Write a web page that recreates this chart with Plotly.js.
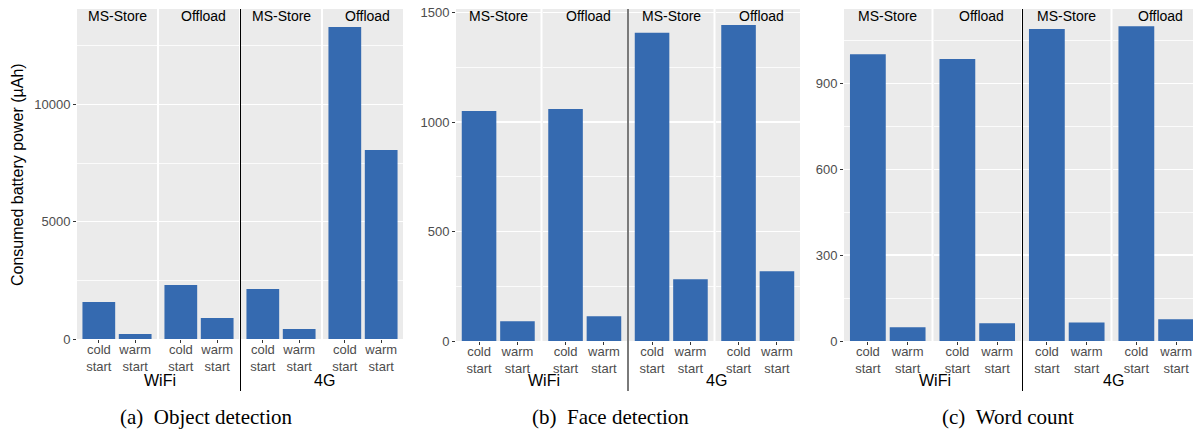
<!DOCTYPE html>
<html>
<head>
<meta charset="utf-8">
<script src="https://cdn.plot.ly/plotly-3.0.1.min.js"></script>
<style>
  html, body { margin: 0; padding: 0; background: #fff; overflow: hidden; }
  #chart { width: 1200px; height: 432px; }
</style>
</head>
<body>
<div id="chart"></div>
<script>
// ---------------- data ----------------
const categories = ['cold<br>start', 'warm<br>start'];
const facetNetworks = ['WiFi', 'WiFi', '4G', '4G'];
const facetDeployments = ['MS-Store', 'Offload', 'MS-Store', 'Offload'];
const networkLabels = ['WiFi', '4G'];

// values per facet: [WiFi MS-Store, WiFi Offload, 4G MS-Store, 4G Offload]
const objectCold = [1577, 2302, 2131, 13299];
const objectWarm = [213, 895, 426, 8056];
const faceCold = [1051, 1060, 1408, 1444];
const faceWarm = [90, 113, 282, 319];
const wordCold = [1002, 985, 1090, 1100];
const wordWarm = [48, 62, 65, 76];

const captions = ['(a)\u00a0\u00a0Object detection', '(b)\u00a0\u00a0Face detection', '(c)\u00a0\u00a0Word count'];
const yTitle = 'Consumed battery power (µAh)';

// ---------------- layout geometry (pixels) ----------------
const W = 1200, H = 432;
const TOP = 9, GAP = 2;
const panels = [
  {left: 77,  right: 403,  bottom: 339, range: [0, 14066], dtick: 5000, minor: 2500,
   cold: objectCold, warm: objectWarm, sepColor: '#000000', sepWidth: 1, capX: 206},
  {left: 456, right: 800,  bottom: 341, range: [0, 1517],  dtick: 500,  minor: 250,
   cold: faceCold, warm: faceWarm, sepColor: '#7a7a7a', sepWidth: 2, capX: 610},
  {left: 844, right: 1200, bottom: 341, range: [0, 1160],  dtick: 300,  minor: 150,
   cold: wordCold, warm: wordWarm, sepColor: '#000000', sepWidth: 1, capX: 1008}
];

const BAR = '#356AB0';
const PANEL_BG = '#EBEBEB';
const FONT = '"Liberation Sans", Arial, Helvetica, sans-serif';
const SERIF = '"Liberation Serif", "Times New Roman", Times, serif';

const px = v => v / W;
const py = v => 1 - v / H;

const traces = [];
const layout = {
  width: W, height: H,
  margin: {l: 0, r: 0, t: 0, b: 0},
  paper_bgcolor: '#ffffff',
  plot_bgcolor: PANEL_BG,
  showlegend: false,
  bargap: 0.1,
  font: {family: FONT, color: '#000'},
  annotations: [],
  shapes: []
};

let n = 0;
panels.forEach((p, pi) => {
  const fw = (p.right - p.left - 3 * GAP) / 4;
  const firstN = n + 1;
  const facetX = [];
  for (let f = 0; f < 4; f++) {
    n++;
    const sfx = n === 1 ? '' : String(n);
    const x0 = p.left + f * (fw + GAP);
    const x1 = x0 + fw;
    facetX.push([x0, x1]);
    traces.push({
      type: 'bar',
      x: categories,
      y: [p.cold[f], p.warm[f]],
      xaxis: 'x' + sfx,
      yaxis: 'y' + sfx,
      marker: {color: BAR, line: {width: 0}},
      hoverinfo: 'skip'
    });
    layout['xaxis' + sfx] = {
      domain: [px(x0), px(x1)],
      anchor: 'y' + sfx,
      type: 'category',
      range: [-0.6, 1.6],
      showgrid: false,
      zeroline: false,
      showline: false,
      ticks: 'outside', ticklen: 3, tickwidth: 1, tickcolor: '#333333',
      tickfont: {family: FONT, size: 13, color: '#4D4D4D'},
      ticklabelstandoff: -5,
      fixedrange: true
    };
    const yax = {
      domain: [py(p.bottom), py(TOP)],
      anchor: 'x' + sfx,
      range: p.range,
      dtick: p.dtick,
      tick0: 0,
      tickformat: 'd',
      showgrid: true, gridcolor: '#ffffff', gridwidth: 1.4,
      minor: {dtick: p.minor, tick0: 0, showgrid: true, gridcolor: '#ffffff', gridwidth: 0.8, ticks: ''},
      zeroline: false,
      showline: false,
      fixedrange: true
    };
    if (f === 0) {
      Object.assign(yax, {
        ticks: 'outside', ticklen: 3, tickwidth: 1, tickcolor: '#333333',
        tickfont: {family: FONT, size: 13, color: '#4D4D4D'},
        showticklabels: true
      });
    } else {
      Object.assign(yax, {ticks: '', showticklabels: false,
        matches: 'y' + (firstN === 1 ? '' : String(firstN))});
    }
    layout['yaxis' + sfx] = yax;

    // strip label
    layout.annotations.push({
      xref: 'paper', yref: 'paper',
      x: px((x0 + x1) / 2), y: py(16),
      xanchor: 'center', yanchor: 'middle',
      xshift: facetDeployments[f] === 'Offload' ? 4 : 0,
      text: facetDeployments[f], showarrow: false,
      font: {family: FONT, size: 14, color: '#000'}
    });
  }
  // network group labels
  networkLabels.forEach((lab, gi) => {
    const cx = (facetX[gi * 2][1] + facetX[gi * 2 + 1][0]) / 2;
    layout.annotations.push({
      xref: 'paper', yref: 'paper',
      x: px(cx), y: py(380), xshift: 2,
      xanchor: 'center', yanchor: 'middle',
      text: lab, showarrow: false,
      font: {family: FONT, size: 16, color: '#000'}
    });
  });
  // separator line between WiFi and 4G
  const sx = (facetX[1][1] + facetX[2][0]) / 2;
  const snap = p.sepWidth % 2 === 1 ? Math.floor(sx) + 0.5 : Math.round(sx);
  layout.shapes.push({
    type: 'line', xref: 'paper', yref: 'paper',
    x0: px(snap), x1: px(snap), y0: py(TOP), y1: py(391),
    line: {color: p.sepColor, width: p.sepWidth}
  });
  // caption
  layout.annotations.push({
    xref: 'paper', yref: 'paper',
    x: px(p.capX), y: py(417),
    xanchor: 'center', yanchor: 'middle',
    text: captions[pi], showarrow: false,
    font: {family: SERIF, size: 21, color: '#000'}
  });
});

// y-axis title (panel a only)
layout.annotations.push({
  xref: 'paper', yref: 'paper',
  x: px(17), y: py(175),
  xanchor: 'center', yanchor: 'middle',
  textangle: -90,
  text: yTitle, showarrow: false,
  font: {family: FONT, size: 16, color: '#000'}
});

Plotly.newPlot('chart', traces, layout, {displayModeBar: false, staticPlot: true});
</script>
</body>
</html>
